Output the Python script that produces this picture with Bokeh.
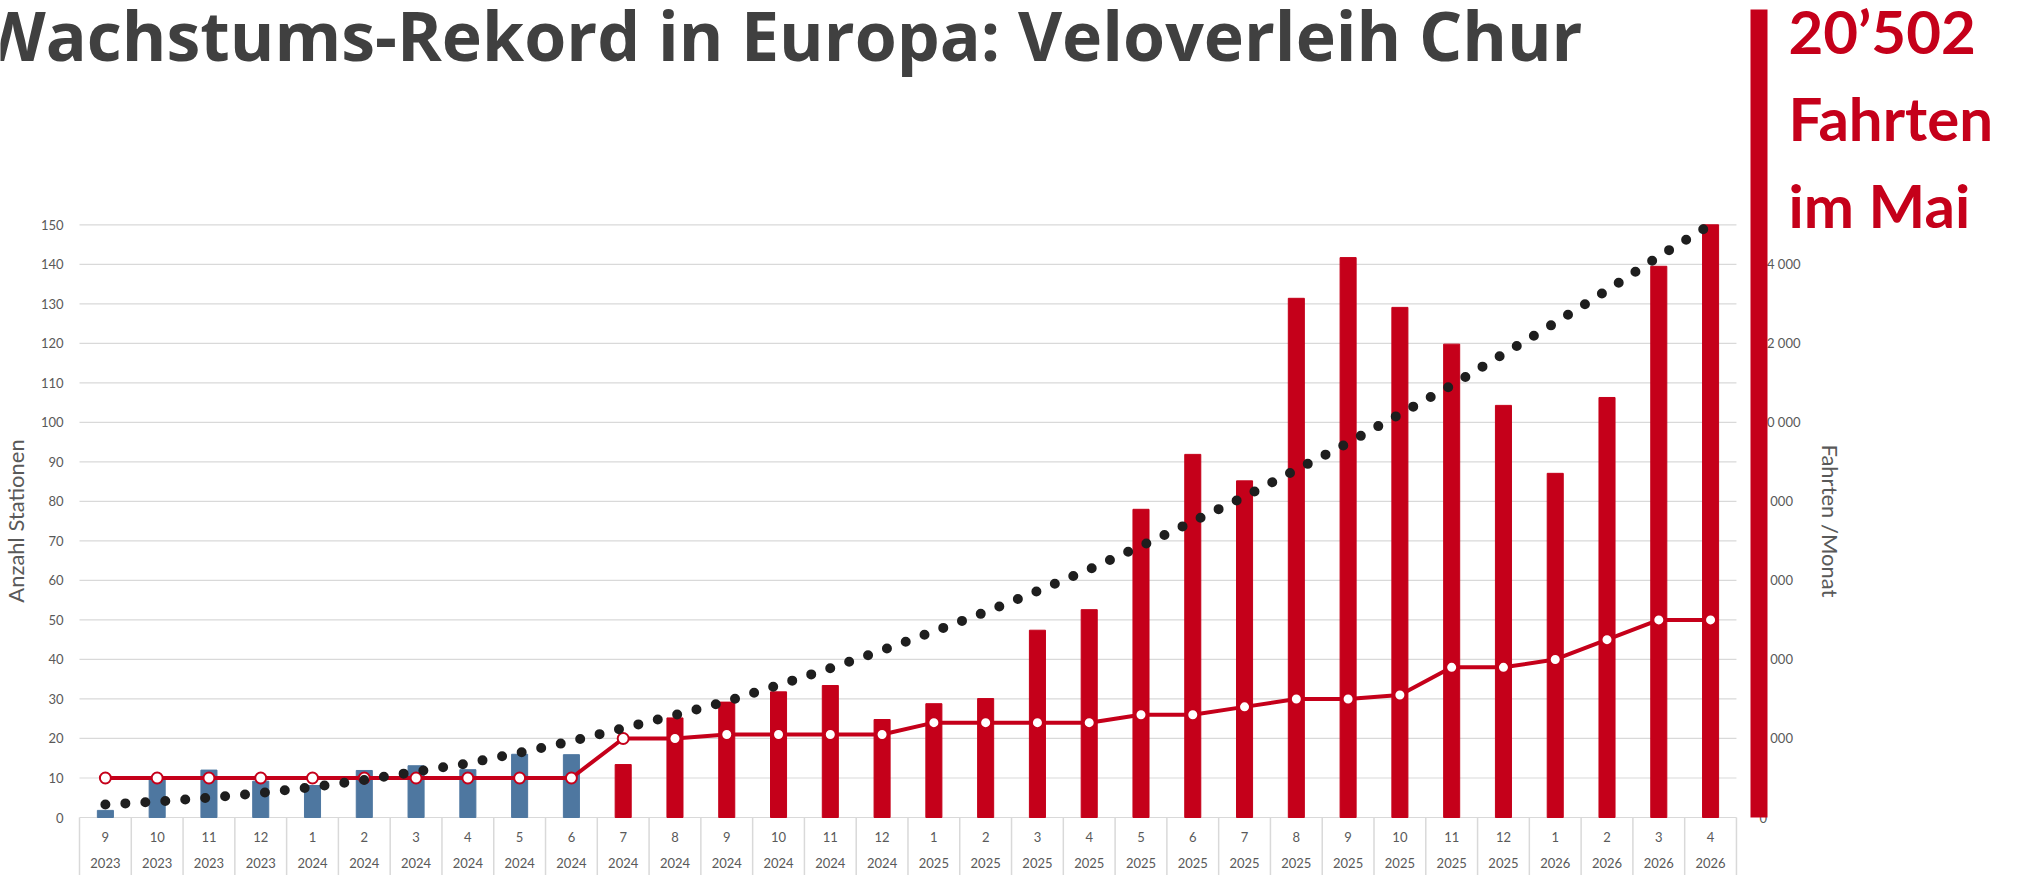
from bokeh.plotting import figure
from bokeh.models import Range1d, LinearAxis, FixedTicker, Label
from bokeh.core.properties import value
from bokeh.embed import file_html
from bokeh.resources import INLINE

# ---------------- data ----------------
months = ["9", "10", "11", "12", "1", "2", "3", "4", "5", "6", "7", "8",
          "9", "10", "11", "12", "1", "2", "3", "4", "5", "6", "7", "8",
          "9", "10", "11", "12", "1", "2", "3", "4"]
years = ["2023"] * 4 + ["2024"] * 12 + ["2025"] * 12 + ["2026"] * 4

# Anzahl Stationen (left axis)
stations = [10, 10, 10, 10, 10, 10, 10, 10, 10, 10, 20, 20,
            21, 21, 21, 21, 24, 24, 24, 24, 26, 26, 28, 30,
            30, 31, 38, 38, 40, 45, 50, 50]

# Trend (dotted) on the station axis
trend = [3.3, 4.0, 5.0, 6.2, 7.7, 9.5, 11.6, 13.7, 16.4, 19.3, 22.6, 25.9,
         29.4, 33.5, 37.8, 42.3, 47.1, 52.0, 57.3, 62.8, 68.7, 74.9, 81.2, 88.0,
         94.8, 102.1, 109.4, 117.3, 125.2, 133.4, 142.0, 150.0]

# Fahrten / Monat (right axis)
rides = [180, 1000, 1200, 920, 810, 1190, 1310, 1210, 1600, 1590, 1340, 2520,
         2920, 3180, 3340, 2480, 2880, 3010, 4740, 5260, 7800, 9190, 8520, 13140,
         14170, 12910, 11980, 10430, 8710, 10630, 13950, 15000]

# first months (pilot phase) shown in blue
pilot_months = 10

left_ticks = list(range(0, 151, 10))
right_ticks = list(range(0, 15000, 2000))
right_labels = {t: ("0" if t == 0 else f"{t // 1000} 000") for t in right_ticks}

title_text = "Wachstums-Rekord in Europa: Veloverleih Chur"
callout = ["20\u2019502", "Fahrten", "im Mai"]

# ---------------- style / layout ----------------
RED = "#C5001A"
BLUE = "#4E77A0"
GRID = "#D9D9D9"
TXT = "#595959"
FONT = "Lato"

W, H = 2017, 875
FRAME_L_PX = 79.0      # left edge of the category area (px)
CAT_W_PX = 51.78       # width of one month (px)
ZERO_PX = 817.0        # vertical position of value 0 (px)
UNIT_PX = 3.9513       # px per station
LABEL_DY = 24          # label baseline correction (px)


def px_x(px):
    return -0.5 + (px - FRAME_L_PX) / CAT_W_PX


def px_y(py):
    return (ZERO_PX - py) / UNIT_PX


n = len(months)
idx = list(range(n))

p = figure(width=W, height=H, output_backend="svg", toolbar_location=None,
           x_range=Range1d(px_x(0), px_x(W)), y_range=Range1d(px_y(H), px_y(0)),
           x_axis_location=None,
           min_border_left=0, min_border_right=0, min_border_top=0, min_border_bottom=0)
p.outline_line_color = None
p.background_fill_color = "white"
p.border_fill_color = "white"
p.xgrid.visible = False
p.ygrid.visible = False

# horizontal grid lines only across the category area
p.segment(x0=[-0.5] * len(left_ticks), x1=[n - 0.5] * len(left_ticks),
          y0=left_ticks, y1=left_ticks, line_color=GRID, line_width=1.2)


def style_axis(ax, standoff, label_standoff):
    ax.axis_line_color = None
    ax.major_tick_line_color = None
    ax.minor_tick_line_color = None
    ax.major_tick_out = 0
    ax.major_tick_in = 0
    ax.minor_tick_out = 0
    ax.minor_tick_in = 0
    ax.major_label_standoff = standoff
    ax.major_label_text_font = FONT
    ax.major_label_text_font_size = "13px"
    ax.major_label_text_color = TXT
    ax.axis_label_text_font = FONT
    ax.axis_label_text_font_size = "22px"
    ax.axis_label_text_font_style = "normal"
    ax.axis_label_text_color = TXT
    ax.axis_label_standoff = label_standoff


ya = p.yaxis[0]
ya.fixed_location = -0.5
ya.bounds = (0, 150)
ya.ticker = FixedTicker(ticks=left_ticks)
ya.axis_label = "Anzahl Stationen"
style_axis(ya, 16, 9)

p.extra_y_ranges = {"rides": Range1d(px_y(H) * 100, px_y(0) * 100)}
ra = LinearAxis(y_range_name="rides", ticker=FixedTicker(ticks=right_ticks),
                fixed_location=n - 0.5, bounds=(0, 15000))
ra.major_label_overrides = right_labels
ra.axis_label = "Fahrten /Monat"
style_axis(ra, 23, 13)
p.add_layout(ra, "right")

# bars
bar_colors = [BLUE if i < pilot_months else RED for i in idx]
p.vbar(x=idx, top=rides, bottom=0, width=0.31, y_range_name="rides",
       fill_color=bar_colors, line_color=bar_colors)

# stations line
p.line(idx, stations, line_color=RED, line_width=4)
p.scatter(idx, stations, size=11, fill_color="white", line_color=RED, line_width=2)

# trend dotted line
p.line(idx, trend, line_color="#1E1E1E", line_width=10, line_dash="0 20",
       line_cap="round")

# category table below the axis
bounds = [i - 0.5 for i in range(n + 1)]
p.segment(x0=bounds, y0=[0] * len(bounds), x1=bounds, y1=[px_y(H)] * len(bounds),
          line_color=GRID, line_width=1.5)
p.text(x=idx, y=[px_y(836)] * n, text=months, text_align="center", text_baseline="middle",
       text_font=value(FONT), text_font_size="13px", text_color=TXT)
p.text(x=idx, y=[px_y(862)] * n, text=years, text_align="center", text_baseline="middle",
       text_font=value(FONT), text_font_size="13px", text_color=TXT)

# title (runs off the left edge like in the original)
p.add_layout(Label(x=px_x(1582), y=px_y(58 - LABEL_DY), text=title_text,
                   text_align="right", text_baseline="alphabetic",
                   text_font="Open Sans", text_font_style="bold",
                   text_font_size="68px", text_color="#404040"))

# red vertical accent bar (drawn over the right axis labels)
p.quad(left=px_x(1750), right=px_x(1767), bottom=0, top=px_y(9),
       fill_color=RED, line_color=None, level="overlay")

for k, t in enumerate(callout):
    p.add_layout(Label(x=px_x(1788), y=px_y(54 + 87 * k - LABEL_DY), text=t,
                       text_align="left", text_baseline="alphabetic",
                       text_font=FONT, text_font_style="bold",
                       text_font_size="60px", text_color=RED))

open("out.html", "w").write(file_html(p, INLINE))
